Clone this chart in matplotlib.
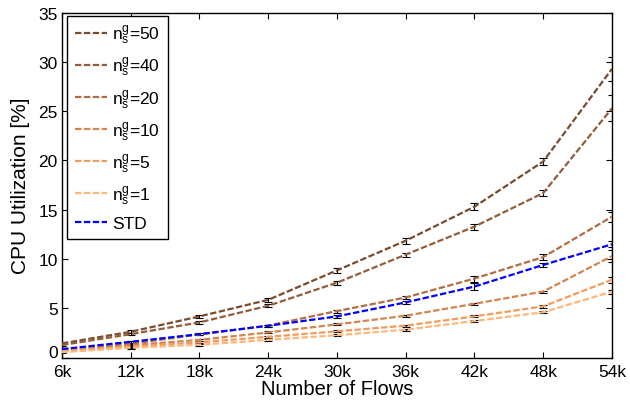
import matplotlib
matplotlib.use("Agg")
import matplotlib.pyplot as plt
import matplotlib.transforms as mtrans
import numpy as np

plt.rcParams['font.family'] = ['Liberation Sans', 'DejaVu Sans']
plt.rcParams['mathtext.fontset'] = 'custom'
plt.rcParams['mathtext.rm'] = 'Liberation Sans'
plt.rcParams['mathtext.it'] = 'Liberation Sans'
plt.rcParams['lines.scale_dashes'] = False

# data
flows = [6, 12, 18, 24, 30, 36, 42, 48, 54]
xlabels = ['6k', '12k', '18k', '24k', '30k', '36k', '42k', '48k', '54k']
labels = [r'$\mathregular{n_s^g}$=50', r'$\mathregular{n_s^g}$=40', r'$\mathregular{n_s^g}$=20',
          r'$\mathregular{n_s^g}$=10', r'$\mathregular{n_s^g}$=5', r'$\mathregular{n_s^g}$=1', 'STD']
colors = ['#7b4b2e', '#935c3c', '#b36d45', '#d5834f', '#f39b5e', '#fdb779', '#0000ff']

n50 = [1.44, 2.62, 4.18, 5.86, 8.85, 11.86, 15.31, 19.9, 29.3]
n40 = [1.27, 2.38, 3.57, 5.26, 7.6, 10.45, 13.29, 16.7, 25.3]
n20 = [0.85, 1.4, 2.35, 3.25, 4.72, 6.1, 8.02, 10.2, 14.3]
n10 = [0.75, 1.25, 1.8, 2.55, 3.37, 4.25, 5.46, 6.7, 10.3]
n5 = [0.65, 1.1, 1.55, 2.11, 2.66, 3.24, 4.18, 5.2, 7.9]
n1 = [0.55, 1.0, 1.3, 1.8, 2.27, 2.83, 3.71, 4.6, 6.7]
std = [0.86, 1.6, 2.38, 3.23, 4.18, 5.6, 7.21, 9.4, 11.5]

e50 = [0.1, 0.15, 0.15, 0.2, 0.25, 0.3, 0.35, 0.4, 1.2]
e40 = [0.1, 0.1, 0.15, 0.15, 0.2, 0.2, 0.3, 0.35, 1.3]
e20 = [0.1, 0.1, 0.1, 0.1, 0.15, 0.15, 0.3, 0.3, 0.5]
e10 = [0.1, 0.1, 0.1, 0.1, 0.1, 0.1, 0.1, 0.1, 0.6]
e5 = [0.1, 0.1, 0.1, 0.1, 0.1, 0.1, 0.1, 0.15, 0.3]
e1 = [0.1, 0.1, 0.1, 0.1, 0.1, 0.1, 0.1, 0.1, 0.2]
estd = [0.1, 0.1, 0.1, 0.1, 0.15, 0.15, 0.35, 0.2, 0.3]

series = [n50, n40, n20, n10, n5, n1, std]
errs = [e50, e40, e20, e10, e5, e1, estd]

fig = plt.figure(figsize=(6.3, 4.02), dpi=100)
ax = fig.add_axes([0.0984, 0.108, 0.873, 0.858])

for y, e, c, lab in zip(series, errs, colors, labels):
    ax.errorbar(flows, y, yerr=e, fmt='none', ecolor='black', elinewidth=0.8,
                capsize=3, capthick=0.8, zorder=2)
    ax.plot(flows, y, color=c, lw=1.6, dashes=(4.6, 1.8), label=lab, zorder=3)

ax.set_xlim(6, 54)
ax.set_ylim(0, 35)
ax.set_xticks(flows)
ax.set_xticklabels(xlabels)
ax.set_yticks(np.arange(0, 36, 5))
ax.tick_params(direction='in', top=True, right=True, labelsize=12.5, length=4)
ax.tick_params(axis='x', pad=4.5)
ax.tick_params(axis='y', pad=3)
for s in ax.spines.values():
    s.set_linewidth(1.0)

# nudge the "0" label up a little, as in the original
fig.canvas.draw()
zero = ax.get_yticklabels()[0]
zero.set_transform(zero.get_transform() + mtrans.ScaledTranslation(0, 5 / 72, fig.dpi_scale_trans))

ax.set_xlabel('Number of Flows', fontsize=14.5, labelpad=0)
ax.set_ylabel('CPU Utilization [%]', fontsize=15, labelpad=6)

leg = ax.legend(loc='upper left', bbox_to_anchor=(0.009, 0.99), fontsize=12.5,
                handlelength=1.85, handletextpad=0.3, labelspacing=0.55,
                borderpad=0.45, borderaxespad=0, fancybox=False, framealpha=1,
                edgecolor='black')
leg.get_frame().set_linewidth(1.0)

fig.savefig('out.png', dpi=100)
